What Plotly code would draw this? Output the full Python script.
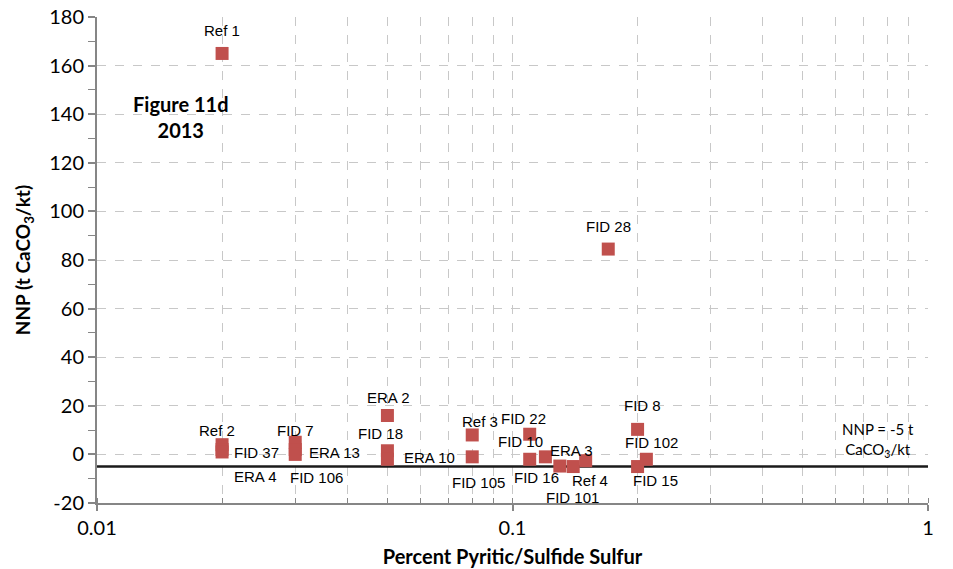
import math
import plotly.graph_objects as go

# Data
labels = ["Ref 1", "Ref 2", "FID 37", "ERA 4", "FID 7", "ERA 13", "FID 106",
          "ERA 2", "FID 18", "ERA 10", "Ref 3", "FID 105", "FID 22", "FID 10",
          "FID 16", "FID 101", "Ref 4", "ERA 3", "FID 28", "FID 8", "FID 15", "FID 102"]
sulfur = [0.02, 0.02, 0.02, 0.02, 0.03, 0.03, 0.03,
          0.05, 0.05, 0.05, 0.08, 0.08, 0.11, 0.11,
          0.12, 0.13, 0.14, 0.15, 0.17, 0.2, 0.2, 0.21]
nnp = [165, 4, 2, 1, 5, 2, 0,
       16, 1.5, -2, 8, -1, 8.3, -2,
       -1, -4.8, -5, -2.6, 84.5, 10.3, -5, -2]
# label pixel offsets (x, y-up)
label_dx = [0, -5, 34, 33, 0, 39, 21, 1, -7, 42, 8, 6, -6, -9, -9, 13, 17, -14, 0, 5, 18, 5]
label_dy = [23, 14, -3, -25, 12, -3, -23, 18, 17, 2, 13, -26, 16, 18, -21, -31, -14, 10, 23, 24, -14, 17]

threshold = -5
x_ticks = [0.01, 0.1, 1]
x_tick_text = ["0.01", "0.1", "1"]
y_ticks = [-20, 0, 20, 40, 60, 80, 100, 120, 140, 160, 180]
y_tick_text = ["-20", "0", "20", "40", "60", "80", "100", "120", "140", "160", "180"]

FONT = "Lato, Calibri, sans-serif"

fig = go.Figure()

fig.add_trace(go.Scatter(
    x=[0.01, 1], y=[threshold, threshold], mode="lines",
    line=dict(color="#1a1a1a", width=2.5), hoverinfo="skip", showlegend=False))

fig.add_trace(go.Scatter(
    x=sulfur, y=nnp, mode="markers",
    marker=dict(symbol="square", size=13, color="#C0504D"),
    showlegend=False))

annotations = []
for t, xv, yv, dx, dy in zip(labels, sulfur, nnp, label_dx, label_dy):
    annotations.append(dict(x=math.log10(xv), y=yv, xref="x", yref="y", text=t, showarrow=False,
                            xshift=dx, yshift=dy, xanchor="center", yanchor="middle",
                            font=dict(family="Liberation Sans, Arial", size=15, color="#000")))

annotations.append(dict(xref="paper", yref="paper", x=(180 - 97) / 831, y=(503 - 117) / 486,
                        xanchor="center", yanchor="middle",
                        text="<b>Figure 11d<br>2013</b>", showarrow=False, align="center",
                        font=dict(family=FONT, size=20, color="#000")))
annotations.append(dict(xref="paper", yref="paper", x=(878 - 97) / 831, y=(503 - 440) / 486,
                        xanchor="center", yanchor="middle",
                        text="NNP = -5 t<br>CaCO<sub>3</sub>/kt", showarrow=False, align="center",
                        font=dict(family=FONT, size=15, color="#000")))

grid_color = "#C8C8C8"
axis_color = "#868686"

fig.update_xaxes(
    type="log", range=[-2, 0], tickvals=x_ticks, ticktext=x_tick_text,
    showgrid=True, gridcolor=grid_color, griddash="dash", gridwidth=1,
    showline=True, linecolor=axis_color, linewidth=2,
    ticks="outside", ticklen=6, tickcolor=axis_color, tickwidth=2,
    minor=dict(dtick="D1", showgrid=True, gridcolor=grid_color, griddash="dash",
               ticks="inside", ticklen=5, tickcolor=axis_color, tickwidth=1),
    tickfont=dict(family=FONT, size=20, color="#000"),
    title=dict(text="<b>Percent Pyritic/Sulfide Sulfur</b>", standoff=12,
               font=dict(family=FONT, size=20, color="#000")),
    zeroline=False, automargin=False)

fig.update_yaxes(
    range=[-20, 180], tickvals=y_ticks, ticktext=y_tick_text,
    showgrid=True, gridcolor=grid_color, griddash="dash", gridwidth=1,
    showline=True, linecolor=axis_color, linewidth=2,
    ticks="outside", ticklen=7, tickcolor=axis_color, tickwidth=2,
    minor=dict(dtick=10, ticks="outside", ticklen=7, tickcolor=axis_color, tickwidth=1, showgrid=False),
    tickfont=dict(family=FONT, size=20, color="#000"),
    title=dict(text="<b>NNP (t CaCO<sub>3</sub>/kt)</b>", standoff=14,
               font=dict(family=FONT, size=19, color="#000")),
    zeroline=False, automargin=False)

fig.update_layout(
    width=953, height=569,
    margin=dict(l=97, r=25, t=17, b=66),
    plot_bgcolor="white", paper_bgcolor="white",
    showlegend=False, annotations=annotations)

fig.write_html("out.html")
